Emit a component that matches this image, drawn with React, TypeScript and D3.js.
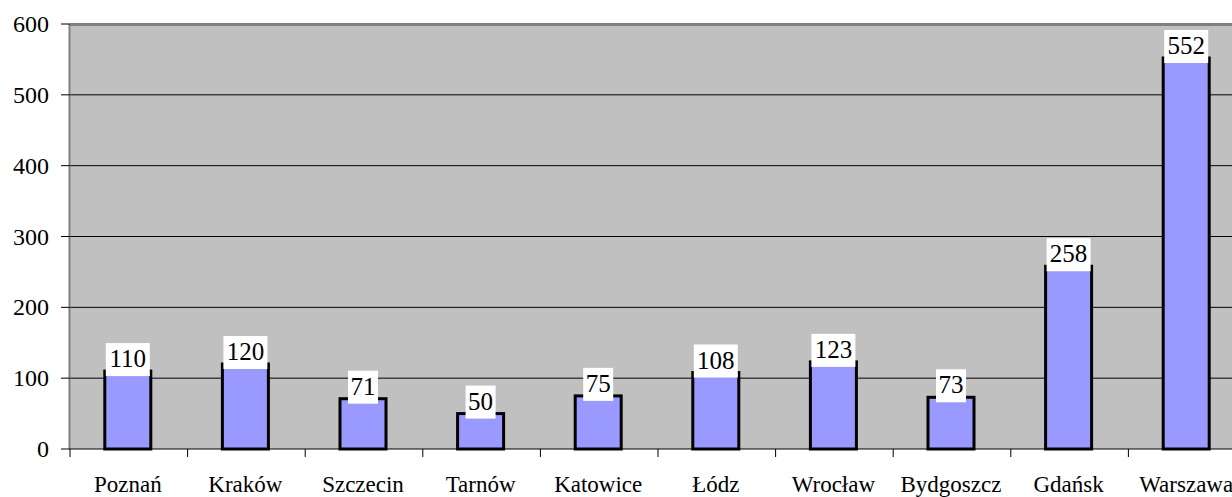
import React from 'react';
import * as d3 from 'd3';

const cities = ['Poznań', 'Kraków', 'Szczecin', 'Tarnów', 'Katowice', 'Łódz', 'Wrocław', 'Bydgoszcz', 'Gdańsk', 'Warszawa'];
const values = [110, 120, 71, 50, 75, 108, 123, 73, 258, 552];
const yTicks = [0, 100, 200, 300, 400, 500, 600];

const W = 1232;
const H = 497;
const left = 70;
const top = 24;
const bottom = 449;
const plotRight = 1246; // plot runs past the picture edge

const font = "'Times New Roman', Times, Tinos, 'Liberation Serif', 'Noto Serif', 'DejaVu Serif', FreeSerif, serif";

const App = () => {
  const x = d3.scaleBand<string>().domain(cities).range([left, plotRight]).paddingInner(0).paddingOuter(0);
  const y = d3.scaleLinear().domain([0, 600]).range([bottom, top]);
  const bw = 46;

  return (
    <svg width={W} height={H} style={{ position: 'absolute', left: 0, top: 0, fontFamily: font }}>
      <rect x={left} y={top} width={plotRight - left} height={bottom - top} fill="#c0c0c0" />
      {yTicks.slice(1, -1).map((t) => (
        <line key={t} x1={left} x2={plotRight} y1={y(t)} y2={y(t)} stroke="#000" strokeWidth={1} />
      ))}
      <line x1={left} x2={plotRight} y1={top + 0.5} y2={top + 0.5} stroke="#808080" strokeWidth={3} />
      <line x1={left - 0.5} x2={left - 0.5} y1={top} y2={bottom} stroke="#808080" strokeWidth={2} />
      {yTicks.map((t) => (
        <g key={t}>
          <line x1={left - 9} x2={left} y1={y(t)} y2={y(t)} stroke="#000" strokeWidth={1} />
          <text x={49} y={y(t) + 8} textAnchor="end" fontSize={24} fill="#000">{t}</text>
        </g>
      ))}
      {cities.map((c) => (
        <line key={c} x1={x(c)!} x2={x(c)!} y1={bottom} y2={bottom + 8} stroke="#000" strokeWidth={1} />
      ))}
      {cities.map((c, i) => {
        const cx = x(c)! + x.bandwidth() / 2 - 1;
        const yt = y(values[i]);
        return (
          <g key={c}>
            <rect x={cx - bw / 2} y={yt} width={bw} height={bottom - yt} fill="#9999ff" stroke="#000" strokeWidth={3} />
            <text x={cx} y={492} textAnchor="middle" fontSize={23} fill="#000">{c}</text>
          </g>
        );
      })}
      <line x1={left} x2={plotRight} y1={bottom} y2={bottom} stroke="#000" strokeWidth={1} />
      {cities.map((c, i) => {
        const cx = x(c)! + x.bandwidth() / 2 - 1;
        const yt = y(values[i]);
        const label = String(values[i]);
        const tw = label.length * 14 + 2;
        return (
          <g key={c}>
            <rect x={cx - tw / 2} y={yt - 28} width={tw} height={33} fill="#fff" />
            <text x={cx} y={yt - 4} textAnchor="middle" fontSize={25} fill="#000">{label}</text>
          </g>
        );
      })}
    </svg>
  );
};

export default App;
